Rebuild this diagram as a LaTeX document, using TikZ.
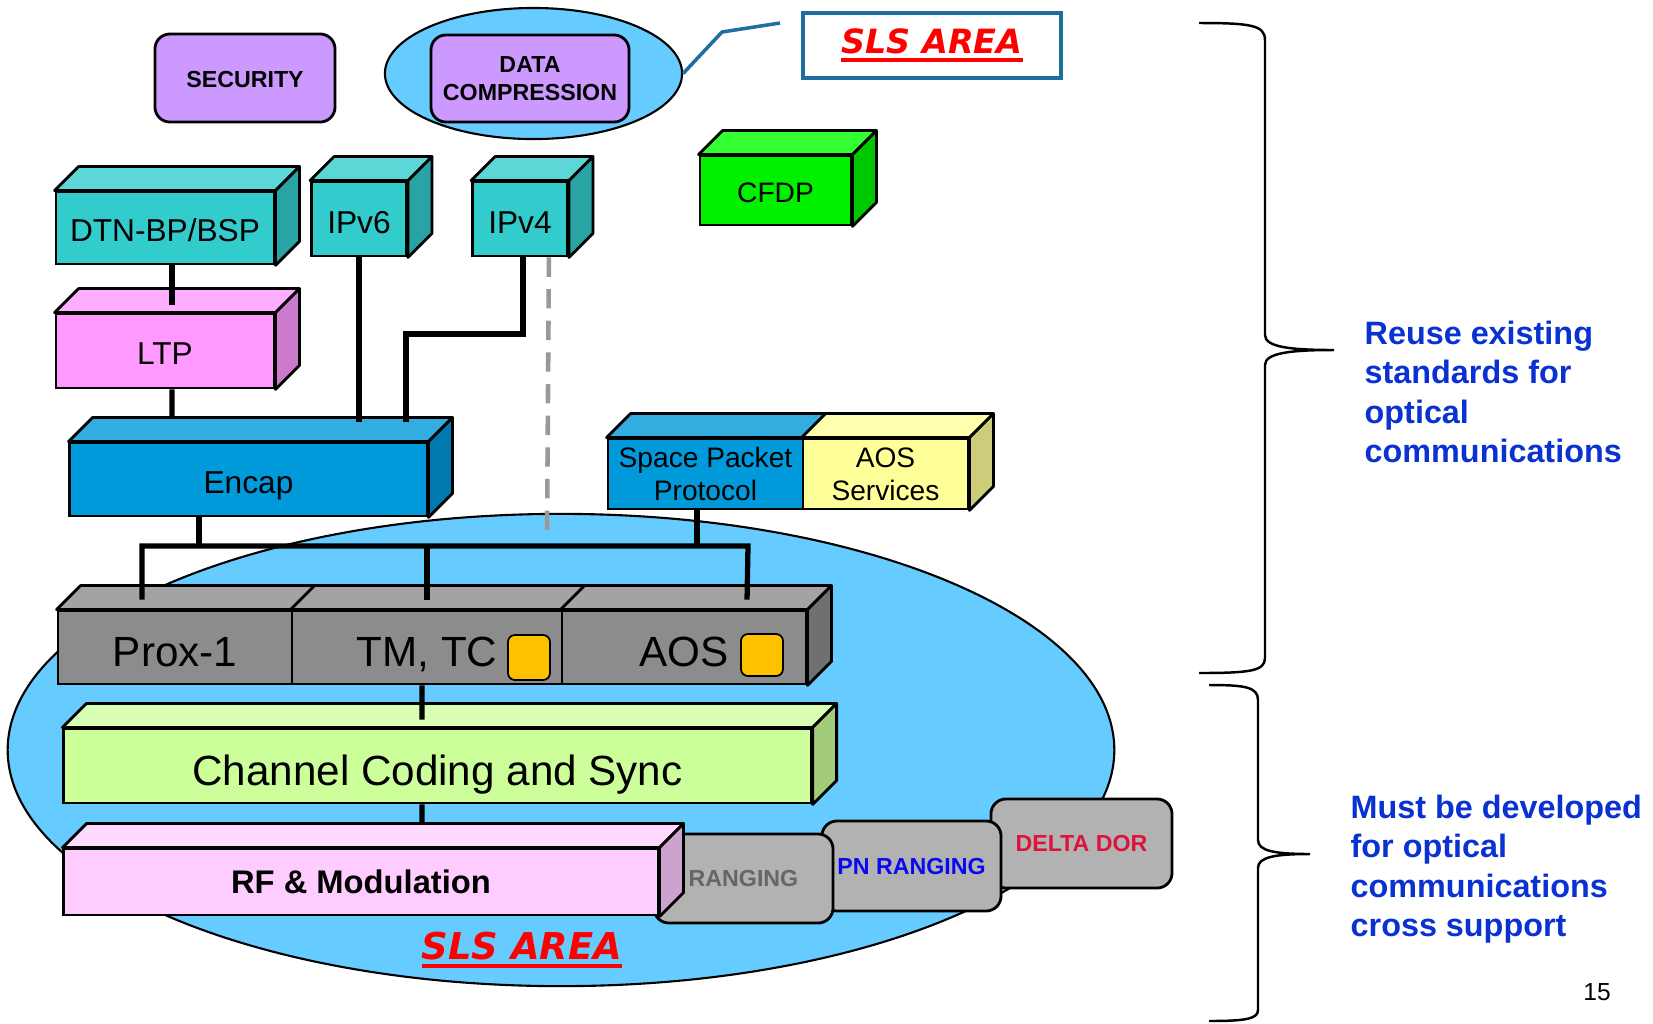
\documentclass[tikz,border=0pt]{standalone}
\usepackage{fontspec}
\setmainfont{Liberation Sans}
\newfontfamily\slsfont{DejaVu Sans}
\usetikzlibrary{shapes.geometric}

\definecolor{areablue}{HTML}{66CCFF}
\definecolor{lilac}{HTML}{CC99FF}
\definecolor{calloutblue}{HTML}{1F6EA0}
\definecolor{slsred}{HTML}{FF0000}
\definecolor{tealfront}{HTML}{33CCCC}
\definecolor{tealtop}{HTML}{5CD6D6}
\definecolor{tealside}{HTML}{29A3A3}
\definecolor{ltpfront}{HTML}{FF99FF}
\definecolor{ltptop}{HTML}{FFADFF}
\definecolor{ltpside}{HTML}{CC7ACC}
\definecolor{encapfront}{HTML}{0099DA}
\definecolor{encaptop}{HTML}{33ACE0}
\definecolor{encapside}{HTML}{007AAE}
\definecolor{aosfront}{HTML}{FFFF99}
\definecolor{aostop}{HTML}{FFFFAD}
\definecolor{aosside}{HTML}{CCCC7A}
\definecolor{cfdpfront}{HTML}{00F000}
\definecolor{cfdptop}{HTML}{33FF33}
\definecolor{cfdpside}{HTML}{00C800}
\definecolor{linkfront}{HTML}{8C8C8C}
\definecolor{linktop}{HTML}{A3A3A3}
\definecolor{linkside}{HTML}{707070}
\definecolor{codingfront}{HTML}{CCFF99}
\definecolor{codingtop}{HTML}{D9FFB3}
\definecolor{codingside}{HTML}{A3CC7A}
\definecolor{rffront}{HTML}{FFCCFF}
\definecolor{rftop}{HTML}{FFD9FF}
\definecolor{rfside}{HTML}{CCA3CC}
\definecolor{taggray}{HTML}{B2B2B2}
\definecolor{flagorange}{HTML}{FFC000}
\definecolor{rangegray}{HTML}{666666}
\definecolor{pnblue}{HTML}{0A0AF0}
\definecolor{dorred}{HTML}{DC143C}
\definecolor{noteblue}{HTML}{0A32D2}

% top and side faces of a block node
\newcommand\topface[2]{%
  \filldraw[fill=#2,draw=black,thick,line join=round] (#1.north west) -- ++(24,-24)
    -- ([shift={(24,-24)}]#1.north east) -- (#1.north east) -- cycle;}
\newcommand\sideface[2]{%
  \filldraw[fill=#2,draw=black,thick,line join=round] (#1.north east) -- ++(24,-24)
    -- ([shift={(24,-24)}]#1.south east) -- (#1.south east) -- cycle;}
% thick underline for the area name
\newcommand\slsname[1]{\leavevmode\vtop{\hbox{#1}\kern1.2pt\hrule height 1.1pt}}

\begin{document}
\begin{tikzpicture}[x=0.01cm,y=-0.01cm,
    block/.style={draw=black,thick,inner sep=0pt,align=center,font=\fontsize{9}{10.5}\selectfont},
    big/.style={font=\fontsize{12}{14}\selectfont},
    oneline/.style={text height=#1,text depth=0pt},
    tag/.style={draw=black,thick,rounded corners=0.15cm,inner sep=0pt,align=center,
      font=\bfseries\fontsize{6.6}{8}\selectfont},
    flag/.style={draw=black,line width=0.5pt,fill=flagorange,rounded corners=0.07cm,inner sep=0pt},
    area/.style={ellipse,draw=black,line width=0.6pt,fill=areablue,inner sep=0pt},
    slslabel/.style={text=slsred,inner sep=0pt},
    link/.style={line width=1.5pt},
    dashlink/.style={line width=1.3pt,draw=black!40,dash pattern=on 5.5pt off 3.5pt},
    note/.style={text=noteblue,align=left,inner sep=0pt,font=\bfseries\fontsize{9.2}{11.2}\selectfont}]

    \useasboundingbox (0,0) rectangle (1653,1023);
    \fill[white] (0,0) rectangle (1653,1023);

    % SLS areas
    \node[area,minimum width=11.06cm,minimum height=4.72cm] (slsarea) at (561,750) {};
    \node[area,minimum width=2.97cm,minimum height=1.31cm] (compressarea) at (533.5,73.5) {};

    \node[tag,oneline=5.3pt,fill=lilac,minimum width=1.8cm,minimum height=0.88cm] (security) at (245,78) {SECURITY};
    \node[tag,fill=lilac,minimum width=1.98cm,minimum height=0.87cm] (compress) at (530,78.5) {DATA\\COMPRESSION};

    \node[draw=calloutblue,line width=1pt,minimum width=2.58cm,minimum height=0.65cm,inner sep=0pt] (slsbox) at (932,45.5)
        {\textcolor{slsred}{\slsfont\bfseries\itshape\fontsize{9.5}{11}\selectfont\slsname{SLS AREA}}};
    \coordinate (calloutbend) at (722,32);
    \coordinate (calloutend) at (780,23);
    \draw[calloutblue,line width=1pt] (compressarea.east) -- (calloutbend) -- (calloutend);

    % upper blocks
    \node[block,oneline=7.1pt,fill=cfdpfront,minimum width=1.51cm,minimum height=0.69cm,font=\fontsize{8}{9.4}\selectfont] (cfdp) at (775.5,190.5) {CFDP};
    \topface{cfdp}{cfdptop} \sideface{cfdp}{cfdpside}

    \node[block,oneline=7.7pt,fill=tealfront,minimum width=2.18cm,minimum height=0.72cm] (dtn) at (165,228) {DTN-BP/BSP};
    \topface{dtn}{tealtop} \sideface{dtn}{tealside}
    \node[block,oneline=8.2pt,fill=tealfront,minimum width=0.95cm,minimum height=0.74cm] (ipv6) at (359,219) {IPv6};
    \topface{ipv6}{tealtop} \sideface{ipv6}{tealside}
    \node[block,oneline=8.2pt,fill=tealfront,minimum width=0.95cm,minimum height=0.74cm] (ipv4) at (520,219) {IPv4};
    \topface{ipv4}{tealtop} \sideface{ipv4}{tealside}

    \node[block,oneline=7.6pt,fill=ltpfront,minimum width=2.18cm,minimum height=0.74cm] (ltp) at (165,351) {LTP};
    \topface{ltp}{ltptop} \sideface{ltp}{ltpside}

    \node[block,oneline=7.9pt,fill=encapfront,minimum width=3.57cm,minimum height=0.73cm] (encap) at (248.5,479.5) {Encap};
    \topface{encap}{encaptop} \sideface{encap}{encapside}

    \node[block,fill=encapfront,minimum width=1.95cm,minimum height=0.70cm,font=\fontsize{8}{9.4}\selectfont] (spp) at (705.5,474) {Space Packet\\Protocol};
    \node[block,fill=aosfront,minimum width=1.65cm,minimum height=0.70cm,font=\fontsize{8}{9.4}\selectfont] (aossvc) at (885.5,474) {AOS\\Services};
    \topface{spp}{encaptop} \topface{aossvc}{aostop} \sideface{aossvc}{aosside}

    % ranging services
    \node[tag,fill=taggray,text=dorred,minimum width=1.81cm,minimum height=0.89cm] (deltador) at (1081.5,843.5) {DELTA DOR};
    \node[tag,fill=taggray,text=pnblue,minimum width=1.79cm,minimum height=0.90cm] (pnranging) at (911.5,866) {PN RANGING};
    \node[tag,fill=taggray,text=rangegray,minimum width=1.79cm,minimum height=0.89cm] (ranging) at (743.5,878.5) {RANGING};

    % link layer
    \node[block,big,oneline=10.9pt,fill=linkfront,minimum width=2.34cm,minimum height=0.73cm] (prox) at (175,647.5) {Prox-1};
    \node[block,big,oneline=10.9pt,fill=linkfront,minimum width=2.70cm,minimum height=0.73cm] (tmtc) at (427,647.5) {TM, TC};
    \node[block,big,oneline=10.9pt,fill=linkfront,minimum width=2.44cm,minimum height=0.73cm] (aos) at (684,647.5) {AOS};
    \topface{prox}{linktop} \topface{tmtc}{linktop} \topface{aos}{linktop} \sideface{aos}{linkside}
    \node[flag,minimum width=0.42cm,minimum height=0.45cm] (tmtcflag) at (529,657.5) {};
    \node[flag,minimum width=0.42cm,minimum height=0.42cm] (aosflag) at (762,655) {};

    \node[block,big,oneline=11.2pt,fill=codingfront,minimum width=7.47cm,minimum height=0.74cm] (coding) at (437.5,766) {Channel Coding and Sync};
    \topface{coding}{codingtop} \sideface{coding}{codingside}

    \node[block,oneline=6.8pt,fill=rffront,minimum width=5.94cm,minimum height=0.66cm,font=\bfseries\fontsize{9.3}{11}\selectfont] (rf) at (361,882) {RF \& Modulation};
    \topface{rf}{rftop} \sideface{rf}{rfside}

    % connectors
    \coordinate (encapin) at ([yshift=0.2cm]encap.north);
    \coordinate (ipv4bend) at (406,334);
    \coordinate (relay) at (547,540);
    \coordinate (busleft) at (142,546);
    \coordinate (busright) at (748,546);
    \coordinate (encapout) at ([xshift=-0.495cm]encap.south);
    \coordinate (sppout) at ([xshift=-0.085cm]spp.south);

    \draw[link] ([xshift=0.07cm]dtn.south) -- ([xshift=0.07cm,yshift=0.08cm]ltp.north);
    \draw[link] ([xshift=0.07cm]ltp.south) -- ([xshift=-0.765cm,yshift=0.24cm]encap.north);
    \draw[link] (ipv6.south) -- (ipv6.south |- encapin);
    \draw[link] ([xshift=0.03cm]ipv4.south) |- (ipv4bend) -- (ipv4bend |- encapin);
    \draw[dashlink] ([xshift=-0.2cm]ipv4.south east) -- (relay);
    \draw[link] (encapout) -- (encapout |- busleft);
    \draw[link] (sppout) -- (sppout |- busright);
    \draw[link] ([xshift=-0.33cm,yshift=0.1cm]prox.north) |- (busright) -- ([xshift=0.63cm,yshift=0.1cm]aos.north);
    \draw[link] (tmtc.north |- busleft) -- ([yshift=0.1cm]tmtc.north);
    \draw[link] ([xshift=-0.05cm]tmtc.south) -- ([xshift=-0.155cm,yshift=0.08cm]coding.north);
    \draw[link] ([xshift=-0.155cm]coding.south) -- ([xshift=0.61cm,yshift=0.24cm]rf.north);

    \node[slslabel] (slsfoot) at (522,950)
        {\slsfont\bfseries\itshape\fontsize{10.5}{12}\selectfont\slsname{SLS AREA}};

    % braces
    \draw[line width=0.7pt] (1199,23) .. controls (1250,23) and (1265,25) .. (1265,40) -- (1265,335)
        .. controls (1265,347) and (1290,350) .. (1334,350) .. controls (1290,350) and (1265,353) .. (1265,365)
        -- (1265,658) .. controls (1265,671) and (1250,673) .. (1199,673);
    \draw[line width=0.7pt] (1209,685) .. controls (1245,685) and (1258,687) .. (1258,700) -- (1258,840)
        .. controls (1258,851) and (1275,854) .. (1310,854) .. controls (1275,854) and (1258,857) .. (1258,868)
        -- (1258,1010) .. controls (1258,1019) and (1245,1021) .. (1209,1021);

    \node[note,anchor=west] (reuse) at (1364,392) {Reuse existing\\standards for\\optical\\communications};
    \node[note,anchor=west] (develop) at (1350,869) {Must be developed\\for optical\\communications\\cross support};
    \node[font=\fontsize{7}{8}\selectfont] (pagenum) at (1597,992) {15};
\end{tikzpicture}
\end{document}
